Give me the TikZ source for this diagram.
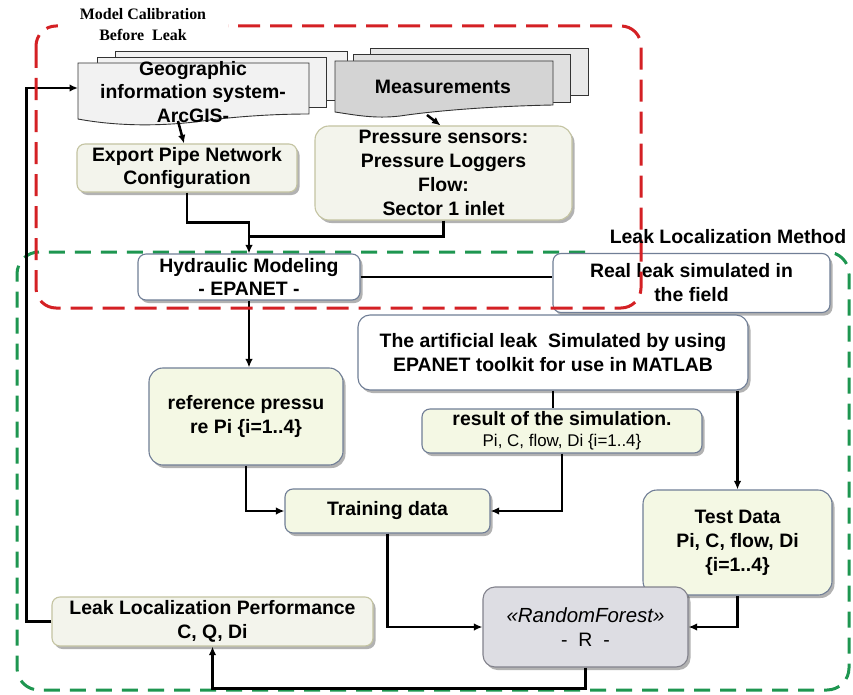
\documentclass[tikz,border=0pt]{standalone}
\usepackage{fontspec}
\setmainfont{Liberation Sans}
\newfontfamily\serifbf{Liberation Serif}
\usetikzlibrary{arrows.meta,shadows,calc}
\definecolor{redd}{RGB}{212,32,36}
\definecolor{greend}{RGB}{30,150,80}
\definecolor{bordc}{RGB}{112,126,150}
\definecolor{creamc}{RGB}{244,248,228}
\definecolor{offc}{RGB}{243,244,236}
\definecolor{olivec}{RGB}{196,196,162}
\definecolor{rfc}{RGB}{221,221,227}
\definecolor{rfb}{RGB}{130,130,140}
\definecolor{sheetc}{RGB}{242,242,242}
\definecolor{msheetA}{RGB}{212,212,212}
\definecolor{msheetB}{RGB}{224,224,224}
\definecolor{msheetC}{RGB}{232,232,232}
\newcommand\mainfsz{\bfseries\fontsize{19.5}{24}\selectfont}
\newcommand\smallfsz{\fontsize{17}{20}\selectfont}
\tikzset{
  box/.style={draw=bordc, line width=1.1bp, rounded corners=8bp, align=center,
    inner sep=2bp, font=\mainfsz,
    drop shadow={shadow xshift=2.5bp, shadow yshift=-3bp, opacity=0.3, fill=black}},
  wbox/.style={box, fill=white},
  cbox/.style={box, fill=creamc},
  obox/.style={box, fill=offc, draw=olivec},
  sheet/.style={draw=black!80, line width=0.9bp},
  arr/.style={line width=2.5bp, -{Latex[length=8.5bp,width=7.5bp]}},
  ln/.style={line width=2.5bp},
  txt/.style={font=\mainfsz, align=center, inner sep=0pt}
}
\begin{document}
\begin{tikzpicture}[x=1bp,y=-1bp]
\useasboundingbox (0,0) rectangle (853,695);
\fill[white] (0,0) rectangle (853,695);

% green dashed region
\draw[greend, line width=3bp, dash pattern=on 16bp off 10bp, rounded corners=22bp]
  (585,252) -- (17,252) -- (17,690) -- (849,690) -- (849,252) -- (827,252);

% GIS document stack
\filldraw[sheet, fill=sheetc] (115,51) rectangle (347,100);
\filldraw[sheet, fill=sheetc] (97,57) rectangle (326,107);
\filldraw[sheet, fill=sheetc] (78,63) -- (309,63) -- (309,114)
  .. controls (270,114) and (230,117) .. (195,122)
  .. controls (150,127) and (110,125) .. (78,119) -- cycle;
\node[txt] (gis) at (193,92) {Geographic\\information system-\\ArcGIS-};
\coordinate (gisb) at (178,121);
\coordinate (gisl) at (78,88);

% Measurements document stack
\filldraw[sheet, fill=msheetC] (370,48) rectangle (588,95);
\filldraw[sheet, fill=msheetB] (353,54) rectangle (570,102);
\filldraw[sheet, fill=msheetA] (335,61) -- (553,61) -- (553,105)
  .. controls (500,106) and (440,110) .. (400,116)
  .. controls (375,119) and (355,115) .. (335,112) -- cycle;
\node[txt] (meas) at (443,87) {Measurements};
\coordinate (measb) at (427,115);

% boxes
\node[obox, minimum width=220bp, minimum height=48bp] (export) at (187,168)
  {Export Pipe Network\\Configuration};
\node[obox, minimum width=257bp, minimum height=94bp, rounded corners=14bp] (press) at (443.5,173)
  {Pressure sensors:\\Pressure Loggers\\Flow:\\Sector 1 inlet};
\node[wbox, minimum width=222bp, minimum height=46bp] (hyd) at (249,277)
  {Hydraulic Modeling\\- EPANET -};
\node[wbox, minimum width=277bp, minimum height=59bp] (real) at (691.5,283)
  {Real leak simulated in\\the field};
\node[wbox, minimum width=390bp, minimum height=75bp, rounded corners=12bp] (art) at (553,352.5)
  {The artificial leak\ \ Simulated by using\\EPANET toolkit for use in MATLAB};
\node[cbox, minimum width=280bp, minimum height=44bp] (res) at (562,431)
  {result of the simulation.\\[-3bp]{\smallfsz\mdseries Pi, C, flow, Di \{i=1..4\}}};
\node[cbox, minimum width=194bp, minimum height=97bp, rounded corners=14bp] (ref) at (246,416.5)
  {reference pressu\\re Pi \{i=1..4\}};
\node[cbox, minimum width=205bp, minimum height=44bp] (train) at (387.5,511)
  {Training data};
\node[cbox, minimum width=189bp, minimum height=105bp, rounded corners=14bp] (test) at (737.5,542.5)
  {Test Data\\Pi, C, flow, Di\\\{i=1..4\}};
\node[box, fill=rfc, draw=rfb, minimum width=205bp, minimum height=80bp, rounded corners=12bp] (rf) at (585.5,627)
  {\mdseries\itshape\fontsize{20.5}{25}\selectfont «RandomForest»\\\mdseries\upshape -\ \ R\ \ -};
\node[obox, minimum width=321bp, minimum height=49bp] (llp) at (212.5,621.5)
  {Leak Localization Performance\\C, Q, Di};

% connectors
\draw[arr] (gisb) -- ([xshift=-3bp]export.north);
\draw[arr] (measb) -- ([xshift=-3bp]press.north);
\draw[arr] (export.south) -- ++(0,30) -| (hyd.north);
\draw[ln] (press.south) |- ($(hyd.north)+(0,-17)$);
\draw[ln] (hyd.east) -- (hyd.east -| real.west);
\draw[arr] (hyd.south) -- (hyd.south |- ref.north);
\draw[ln] (art.south) -- (art.south |- res.north);
\draw[arr] (art.south -| test.north) -- (test.north);
\draw[arr] (res.south) |- (train.east);
\draw[arr] (ref.south) |- (train.west);
\draw[arr] (train.south) |- (rf.west);
\draw[arr] (test.south) |- (rf.east);
\draw[arr] (rf.south) -- ++(0,21) -| (llp.south);
\draw[arr] (llp.west) -- ++(-25,0) |- (gisl);

% red dashed region
\draw[redd, line width=3bp, dash pattern=on 22bp off 10bp, rounded corners=20bp]
  (36,26) rectangle (641,308);

% titles
\node[fill=white, minimum width=170bp, inner sep=3bp, align=center,
  font=\serifbf\bfseries\fontsize{16}{21}\selectfont] (mc) at (143,24.5)
  {Model Calibration\\Before\ \ Leak};
\node[txt] (llm) at (728,237) {Leak Localization Method};
\end{tikzpicture}
\end{document}
